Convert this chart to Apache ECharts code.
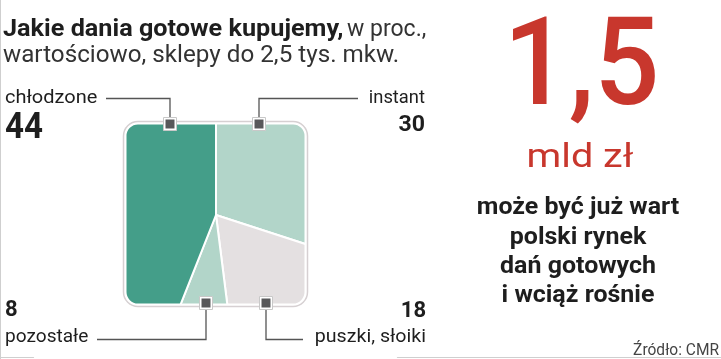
<!DOCTYPE html>
<html>
<head>
<meta charset="utf-8">
<script src="https://cdn.jsdelivr.net/npm/echarts@6/dist/echarts.min.js"></script>
<style>
html,body{margin:0;padding:0;background:#fff;}
#chart{width:721px;height:359px;}
</style>
</head>
<body>
<div id="chart"></div>
<script>
// ---- data ----
const categories = ['instant', 'puszki, słoiki', 'pozostałe', 'chłodzone'];
const shares = [30, 18, 8, 44];
const titleBold = 'Jakie dania gotowe kupujemy,';
const titleRest = 'w proc.,';
const titleLine2 = 'wartościowo, sklepy do 2,5 tys. mkw.';
const bigValue = '1,5';
const bigUnit = 'mld zł';
const noteLines = ['może być już wart', 'polski rynek', 'dań gotowych', 'i wciąż rośnie'];
const sourceText = 'Źródło: CMR';

const FONT = 'Roboto, "Noto Sans", sans-serif';
const chart = echarts.init(document.getElementById('chart'), null, {renderer: 'canvas'});

function txt(x, y, text, size, weight, align, fill, sx) {
  return {
    type: 'text', x: x, y: y, z: 200, scaleX: sx || 1, silent: true,
    style: {
      x: 0, y: 0, text: text, fill: fill || '#1e1e1e',
      font: (weight || 'normal') + ' ' + size + 'px ' + FONT,
      textAlign: align || 'left', textVerticalAlign: 'middle'
    }
  };
}
function line(points) {
  return {type: 'polyline', z: 150, silent: true, shape: {points: points},
    style: {stroke: '#555', lineWidth: 1.3, fill: null}};
}
function marker(cx, cy) {
  return [
    {type: 'rect', z: 160, silent: true, shape: {x: cx - 6.5, y: cy - 6.5, width: 13, height: 13},
      style: {fill: '#fff', stroke: '#c8c8c8', lineWidth: 1}},
    {type: 'rect', z: 161, silent: true, shape: {x: cx - 4.5, y: cy - 4.5, width: 9, height: 9},
      style: {fill: '#58585a'}}
  ];
}

// box geometry
const bx = 125, by = 123, bw = 181, bh = 182, br = 13, W = 110;

const graphics = [
  // white mask around rounded square
  {type: 'rect', z: 100, silent: true,
    shape: {x: bx - W / 2, y: by - W / 2, width: bw + W, height: bh + W, r: br + W / 2},
    style: {fill: null, stroke: '#fff', lineWidth: W}},
  {type: 'rect', z: 101, silent: true,
    shape: {x: bx, y: by, width: bw, height: bh, r: br},
    style: {fill: null, stroke: '#fff', lineWidth: 3}},
  {type: 'rect', z: 102, silent: true,
    shape: {x: bx - 1.5, y: by - 1.5, width: bw + 3, height: bh + 3, r: br + 1.5},
    style: {fill: null, stroke: '#d6d0d2', lineWidth: 1.5}},
  // frame lines
  {type: 'line', z: 90, silent: true, shape: {x1: 0.5, y1: 0, x2: 0.5, y2: 359}, style: {stroke: '#cfcfcf', lineWidth: 1}},
  {type: 'line', z: 90, silent: true, shape: {x1: 0, y1: 357.5, x2: 721, y2: 357.5}, style: {stroke: '#cfcfcf', lineWidth: 1}},
  // title
  txt(3, 30, titleBold, 23, 'bold', 'left', '#1e1e1e', 1.097),
  txt(347, 30, titleRest, 23, 'normal', 'left', '#333', 1.0),
  txt(3, 56, titleLine2, 23, 'normal', 'left', '#333', 1.053),
  // leader lines
  line([[106, 98.5], [170, 98.5], [170, 120]]),
  line([[259, 120], [259, 98.5], [358, 98.5]]),
  line([[206, 306], [206, 339.5], [97, 339.5]]),
  line([[266, 306], [266, 339.5], [303, 339.5]]),
  ...marker(170, 124), ...marker(259, 124), ...marker(206, 303), ...marker(266, 303),
  // labels
  txt(5, 98, categories[3], 18, 'normal', 'left', '#1e1e1e', 1.11),
  txt(5, 129, String(shares[3]), 36, 'bold', 'left', '#1e1e1e', 0.92),
  txt(425, 98, categories[0], 18, 'normal', 'right', '#1e1e1e', 1.02),
  txt(425, 125.5, String(shares[0]), 22, 'bold', 'right', '#1e1e1e', 1.05),
  txt(5, 310.5, String(shares[2]), 22, 'bold', 'left', '#1e1e1e'),
  txt(5, 337.5, categories[2], 18, 'normal', 'left', '#1e1e1e', 1.06),
  txt(426, 311.5, String(shares[1]), 22, 'bold', 'right', '#1e1e1e'),
  txt(426, 337.5, categories[1], 18, 'normal', 'right', '#1e1e1e', 1.09),
  // right block
  txt(581.5, 73.5, bigValue, 122, '500', 'center', '#c8372d', 0.94),
  txt(580, 158.5, bigUnit, 33, 'normal', 'center', '#c8372d', 1.2),
  txt(719, 351, sourceText, 16, 'normal', 'right', '#444', 0.97)
];
const noteBase = [215, 245, 274, 303];
noteLines.forEach(function (t, i) {
  graphics.push(txt(578, noteBase[i] - 7, t, 24, 'bold', 'center', '#1e1e1e', 1.04));
});

chart.setOption({
  animation: false,
  color: ['#b2d5c9', '#e4e0e1', '#b2d5c9', '#449e89'],
  series: [{
    type: 'pie',
    center: [216, 215],
    radius: 140,
    startAngle: 90,
    clockwise: true,
    silent: true,
    label: {show: false},
    labelLine: {show: false},
    itemStyle: {borderColor: '#fff', borderWidth: 2},
    data: categories.map(function (c, i) { return {name: c, value: shares[i]}; })
  }],
  graphic: {elements: graphics}
});
</script>
</body>
</html>
